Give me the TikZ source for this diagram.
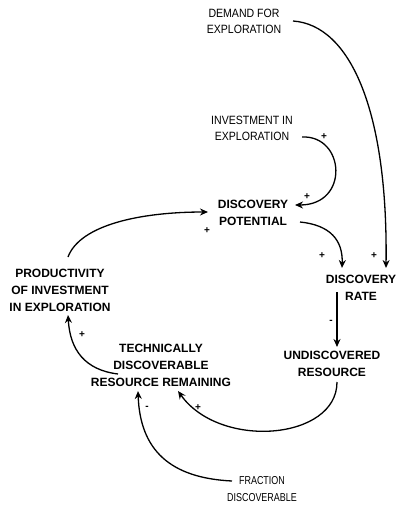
\documentclass[tikz,border=0pt]{standalone}
\usepackage{fontspec}
\setmainfont{Liberation Sans}
\newfontfamily\narrowfont[FakeStretch=0.88]{Liberation Sans}
\newfontfamily\narrowerfont[FakeStretch=0.78]{Liberation Sans}
\usetikzlibrary{arrows.meta,calc}
\begin{document}
\begin{tikzpicture}[x=1pt,y=-1pt,
  var/.style={align=center,inner sep=1pt,font=\bfseries\fontsize{12}{17}\selectfont},
  lightvar/.style={align=center,inner sep=1pt,font=\narrowfont\fontsize{12}{16}\selectfont},
  fracvar/.style={align=center,inner sep=1pt,font=\narrowerfont\fontsize{11.5}{17}\selectfont},
  link/.style={line width=1.3pt,-{Stealth[length=8pt,width=7pt]}},
  sign/.style={inner sep=0pt,font=\bfseries\fontsize{10}{10}\selectfont}]
\useasboundingbox[fill=white] (0,0) rectangle (398,509);
% variables
\node[lightvar] (demand) at (244,21) {DEMAND FOR\\EXPLORATION};
\node[lightvar] (invest) at (252,128) {INVESTMENT IN\\EXPLORATION};
\node[var] (potential) at (253,213) {DISCOVERY\\POTENTIAL};
\node[var] (prod) at (60,290) {PRODUCTIVITY\\OF INVESTMENT\\IN EXPLORATION};
\node[var] (rate) at (361,288) {DISCOVERY\\RATE};
\node[var] (undisc) at (332,364) {UNDISCOVERED\\RESOURCE};
\node[var] (tech) at (161,365) {TECHNICALLY\\DISCOVERABLE\\RESOURCE REMAINING};
\node[fracvar] (fraction) at (262,489) {FRACTION\\DISCOVERABLE};
% connectors
\draw[link] ($(demand.center)+(49,0)$) .. controls +(57,4) and +(2,-158) .. ($(rate.center)+(25,-20)$);
\draw[link] ($(invest.center)+(50,9)$) .. controls +(43,-2) and +(55,0) .. ($(potential.center)+(42,-8)$);
\draw[link] ($(prod.center)+(8,-33)$) .. controls +(12,-32) and +(-68,0) .. ($(potential.center)+(-45,-1)$);
\draw[link] ($(potential.center)+(47,9)$) .. controls +(30,3) and +(1,-28) .. ($(rate.center)+(-19,-20)$);
\draw[link] ($(rate.center)+(-24,4)$) -- ($(undisc.center)+(5,-17)$);
\draw[link] ($(undisc.center)+(5,18)$) .. controls +(0,58) and +(42,59) .. ($(tech.center)+(17,26)$);
\draw[link] ($(fraction.center)+(-30,-8)$) .. controls +(-62,-3) and +(2,59) .. ($(tech.center)+(-23,26)$);
\draw[link] ($(tech.center)+(-43,9)$) .. controls +(-33,-4) and +(2,35) .. ($(prod.center)+(8,25)$);
% polarity signs
\node[sign] (s1) at (324,137) {+};
\node[sign] (s2) at (307,197) {+};
\node[sign] (s3) at (207,231) {+};
\node[sign] (s4) at (322,256) {+};
\node[sign] (s5) at (374,256) {+};
\node[sign] (s6) at (331,322) {-};
\node[sign] (s7) at (82,335) {+};
\node[sign] (s8) at (147,408) {-};
\node[sign] (s9) at (198,408) {+};
\end{tikzpicture}
\end{document}
